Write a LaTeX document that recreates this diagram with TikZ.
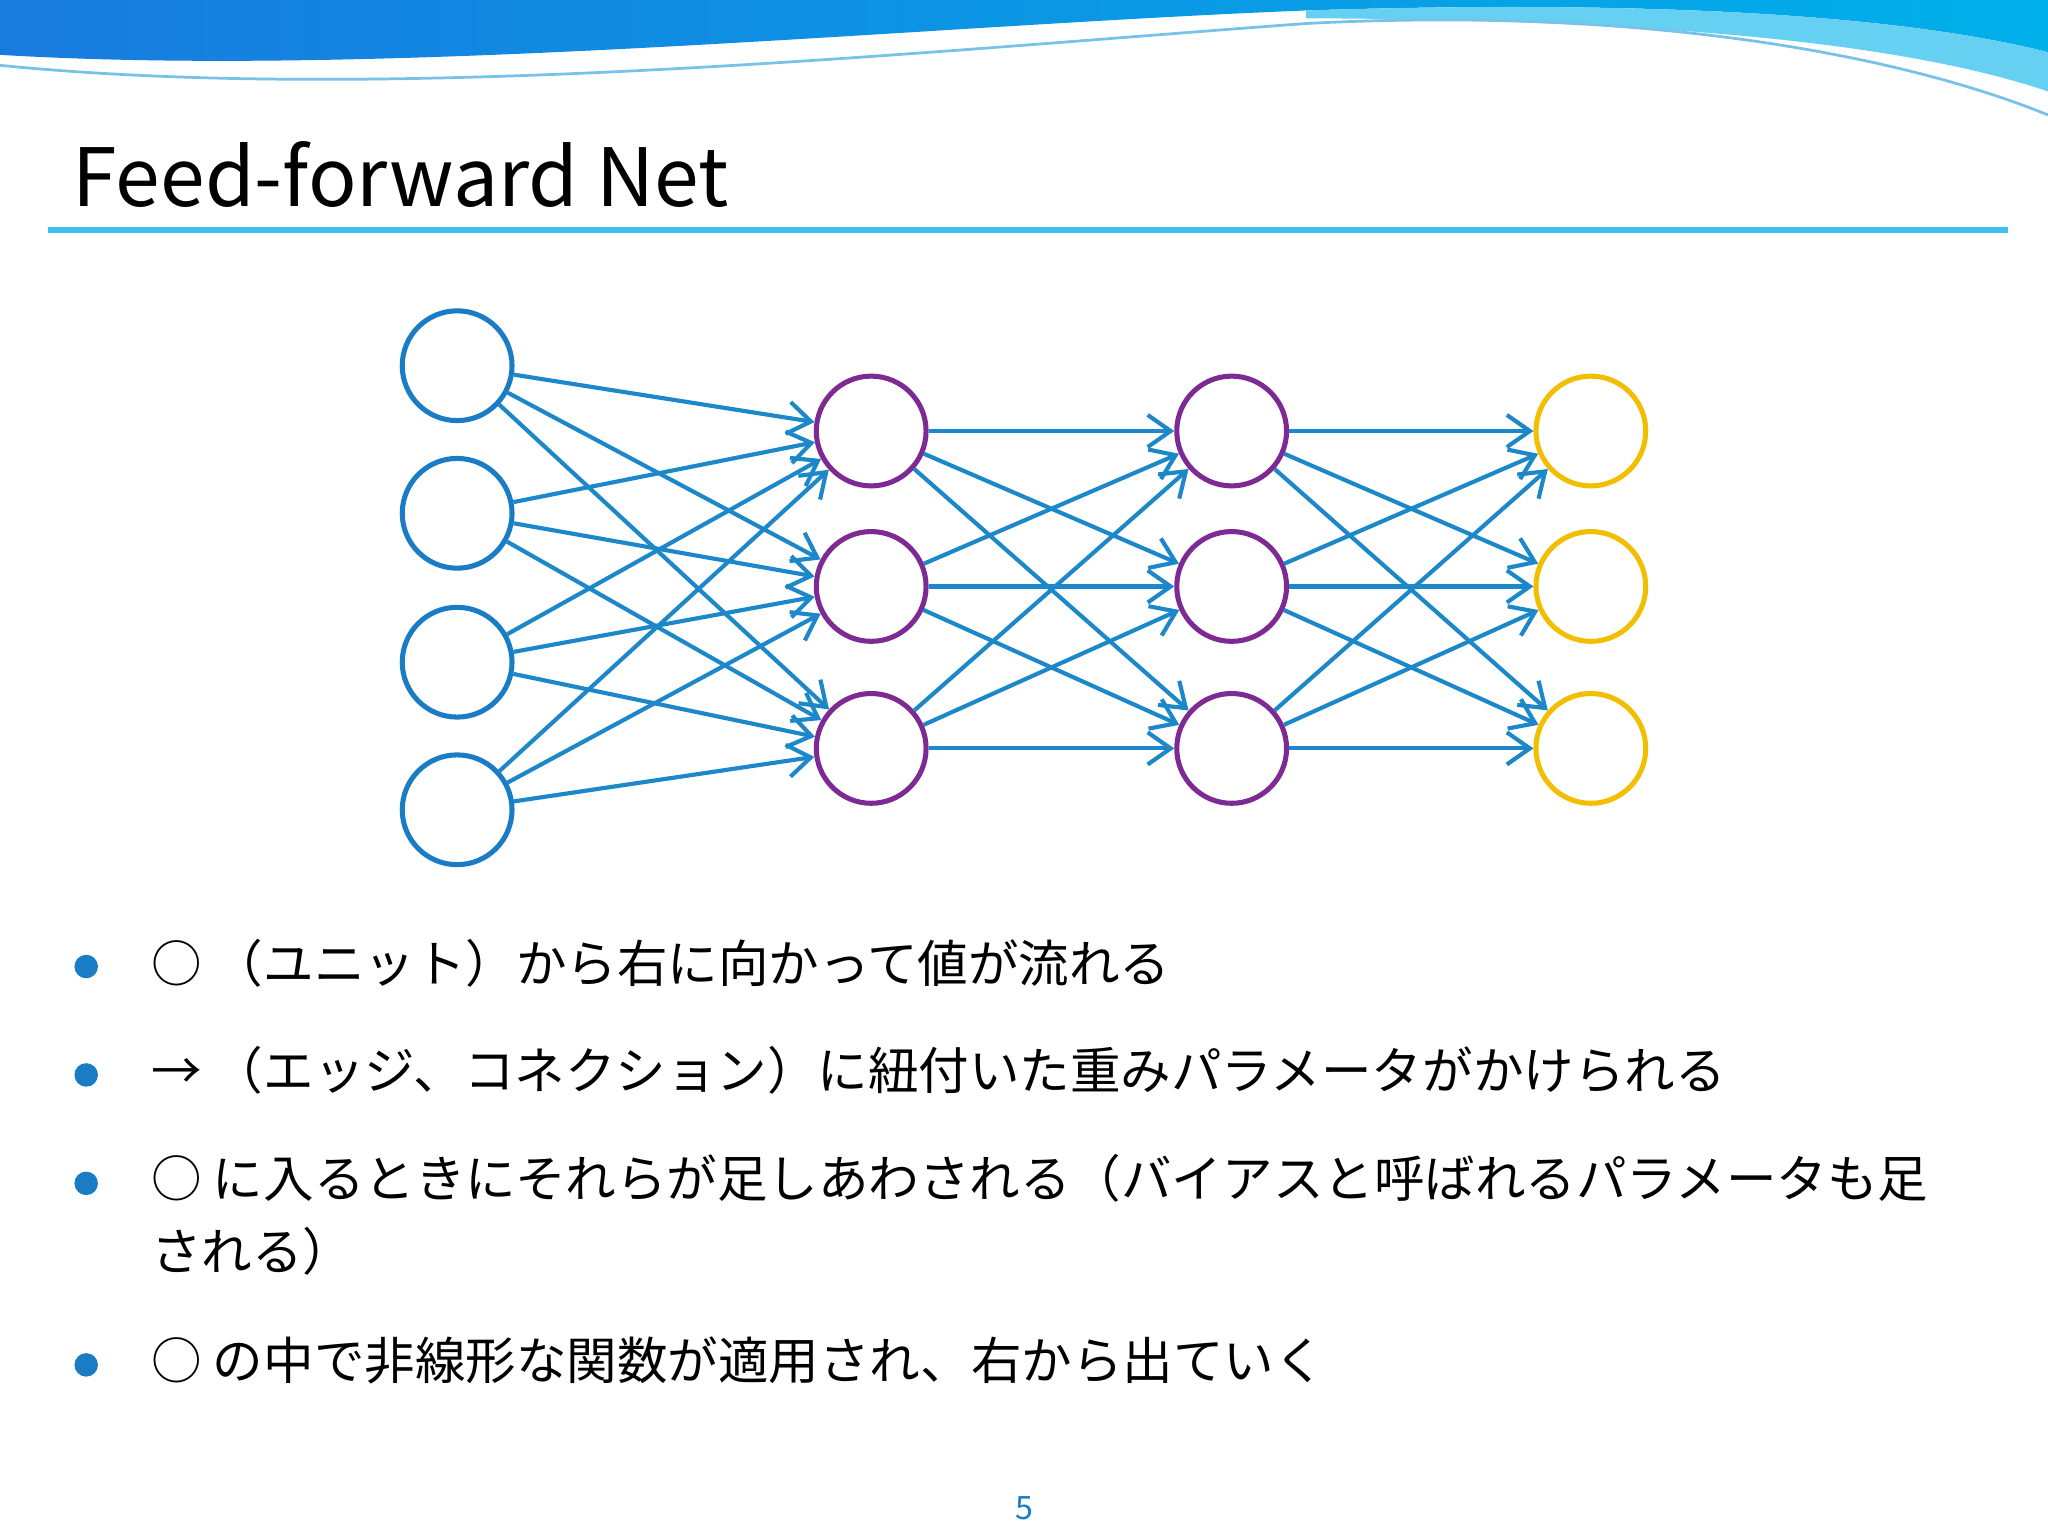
\documentclass[tikz,border=0pt]{standalone}
\usepackage{fontspec}
\setmainfont{Noto Sans CJK JP}
\usetikzlibrary{arrows.meta}
\definecolor{nblue}{HTML}{1A7CC4}
\definecolor{npurple}{HTML}{7E2A94}
\definecolor{nyellow}{HTML}{F2BE00}
\definecolor{ablue}{HTML}{1C87C9}
\definecolor{lineblue}{HTML}{3FC0EE}
\definecolor{wave1}{HTML}{1E9AD6}
\definecolor{wave2}{HTML}{00B0EA}
\tikzset{
 unit/.style={circle,draw,line width=1.1pt,minimum size=0.84cm,inner sep=0pt},
 conn/.style={ablue,line width=0.9pt,-{Straight Barb[length=5pt,width=7pt]}},
 bul/.style={anchor=base west,font=\fontsize{11pt}{14pt}\selectfont,inner sep=0pt}
}
\begin{document}
\begin{tikzpicture}[x=0.01cm,y=-0.01cm]
\useasboundingbox (0,0) rectangle (1568,1176);
\fill[white] (0,0) rectangle (1568,1176);
% top wave
\shade[left color=wave1!80!blue, right color=wave2] (0,0) -- (0,42) .. controls (300,60) and (700,20) .. (1000,8) .. controls (1250,0) and (1450,10) .. (1568,40) -- (1568,0) -- cycle;
\fill[wave2!60] (1000,8) .. controls (1250,0) and (1450,10) .. (1568,40) -- (1568,70) .. controls (1450,30) and (1250,15) .. (1000,14) -- cycle;
\draw[wave1!60,line width=0.6pt] (0,50) .. controls (300,80) and (700,40) .. (1000,18) .. controls (1250,5) and (1450,40) .. (1568,88);
% title
\node[anchor=base west,inner sep=0pt,font=\fontsize{17.5pt}{20pt}\selectfont] (title) at (55,158) {Feed-forward Net};
\draw[lineblue,line width=1.2pt] (37,176) coordinate (ul1) -- (1537,176) coordinate (ul2);
% nodes
\foreach \i/\y in {1/280,2/393,3/507,4/620} \node[unit,nblue] (a\i) at (350,\y) {};
\foreach \i/\y in {1/330,2/449,3/573} {
 \node[unit,npurple] (b\i) at (667,\y) {};
 \node[unit,npurple] (c\i) at (943,\y) {};
 \node[unit,nyellow] (d\i) at (1218,\y) {};
}
\foreach \i in {1,...,4} \foreach \j in {1,2,3} \draw[conn] (a\i) -- (b\j);
\foreach \i in {1,2,3} \foreach \j in {1,2,3} {\draw[conn] (b\i) -- (c\j); \draw[conn] (c\i) -- (d\j);}
% bullets
\foreach \k/\y in {1/740,2/823,3/906,4/1045} \fill[nblue] (66,\y) circle (9) coordinate (dot\k);
\node[bul] (t1) at (115,752) {○ （ユニット）から右に向かって値が流れる};
\node[bul] (t2) at (115,834) {→ （エッジ、コネクション）に紐付いた重みパラメータがかけられる};
\node[bul] (t3) at (115,917) {○ に入るときにそれらが足しあわされる（バイアスと呼ばれるパラメータも足};
\node[bul] (t3b) at (115,973) {される）};
\node[bul] (t4) at (115,1056) {○ の中で非線形な関数が適用され、右から出ていく};
\node[nblue,font=\fontsize{7pt}{8pt}\selectfont] (pg) at (784,1155) {5};
\end{tikzpicture}
\end{document}
